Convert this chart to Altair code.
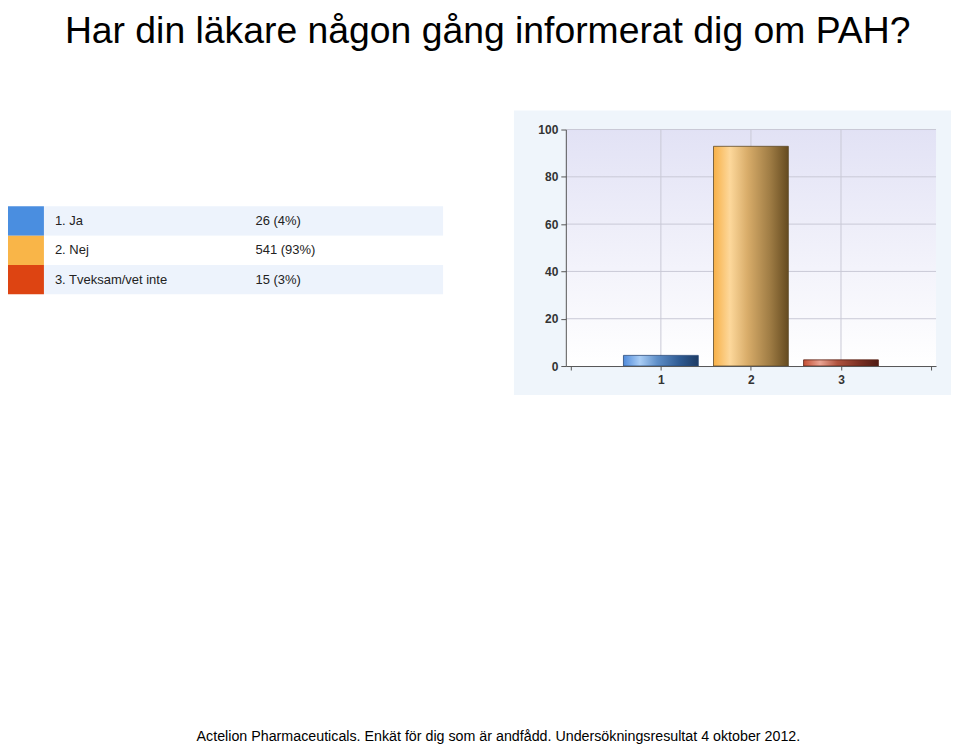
import altair as alt
import pandas as pd

# ---- data ----
categories = [1, 2, 3]
answer_labels = ["1. Ja", "2. Nej", "3. Tveksam/vet inte"]
answer_counts = ["26 (4%)", "541 (93%)", "15 (3%)"]
percent_values = [4.5, 92.9, 2.6]
square_colors = ["#4a8ee0", "#f9b548", "#dd4412"]
row_fills = ["#edf3fc", "#ffffff", "#edf3fc"]
y_ticks = [0, 20, 40, 60, 80, 100]
x_ticks = [0, 1, 2, 3, 4]
y_grid = [20, 40, 60, 80, 100]
x_grid = [1, 2, 3]
title_text = ["Har din läkare någon gång informerat dig om PAH?"]
footer_text = ["Actelion Pharmaceuticals. Enkät för dig som är andfådd. Undersökningsresultat 4 oktober 2012."]

# ---- styles ----
W, H = 371, 237
FONT = "Liberation Sans"

bar_gradients = {
    1: (["#4f8ada", "#a9cdf5", "#5f8fc8", "#2f5b93", "#1d3b64"], "#2a4a78"),
    2: (["#f7b047", "#fdd89b", "#d9ad6a", "#a07d45", "#654b20"], "#5e4a2a"),
    3: (["#c44f33", "#eaa493", "#b0533e", "#7a2f22", "#4f1b13"], "#5a2418"),
}
offsets = [0.0, 0.22, 0.45, 0.75, 1.0]

def hgrad(colors):
    return alt.LinearGradient(
        gradient="linear",
        stops=[alt.GradientStop(color=c, offset=o) for c, o in zip(colors, offsets)],
        x1=0, x2=1, y1=0, y2=0,
    )

bar_df = pd.DataFrame({"cat": categories, "pct": percent_values})
table_df = pd.DataFrame({
    "row": [str(c) for c in categories],
    "label": answer_labels,
    "count": answer_counts,
    "color": square_colors,
    "bg": row_fills,
})
one = pd.DataFrame({"k": [0]})

xscale = alt.Scale(domain=[0, 4], nice=False, zero=False)
yscale = alt.Scale(domain=[0, 100], nice=False)

xaxis = alt.Axis(
    values=x_ticks, grid=False, title=None, zindex=1,
    labelExpr="datum.value >= 1 && datum.value <= 3 ? datum.label : ''",
    domainColor="#555555", tickColor="#555555", tickSize=4,
    labelFont=FONT, labelFontSize=12, labelFontWeight="bold", labelColor="#333333",
    labelPadding=5,
)
yaxis = alt.Axis(
    values=y_ticks, grid=False, title=None, zindex=1,
    domainColor="#555555", tickColor="#555555", tickSize=5,
    labelFont=FONT, labelFontSize=12, labelFontWeight="bold", labelColor="#333333",
    labelPadding=3,
)

outer_bg = alt.Chart(one).mark_rect(fill="#eff5fb").encode(
    x=alt.value(-52), x2=alt.value(386), y=alt.value(-19), y2=alt.value(266)
)
inner_bg = alt.Chart(one).mark_rect(
    fill=alt.LinearGradient(
        gradient="linear",
        stops=[alt.GradientStop(color="#e2e2f5", offset=0),
               alt.GradientStop(color="#ffffff", offset=1)],
        x1=0, x2=0, y1=0, y2=1,
    )
).encode(x=alt.value(0), x2=alt.value(W), y=alt.value(0), y2=alt.value(H))

hgrid = alt.Chart(pd.DataFrame({"v": y_grid})).mark_rule(
    color="#c9c9d6", strokeWidth=1
).encode(y=alt.Y("v:Q", scale=yscale, axis=yaxis))

vgrid = alt.Chart(pd.DataFrame({"c": x_grid})).mark_rule(
    color="#c9c9d6", strokeWidth=1
).encode(x=alt.X("c:Q", scale=xscale, axis=xaxis))

bars = []
for c in categories:
    cols, stroke = bar_gradients[c]
    bars.append(
        alt.Chart(bar_df).transform_filter(alt.datum.cat == c).mark_bar(
            orient="vertical", size=75, fill=hgrad(cols), stroke=stroke, strokeWidth=0.8
        ).encode(
            x=alt.X("cat:Q", scale=xscale, axis=xaxis),
            y=alt.Y("pct:Q", scale=yscale, axis=yaxis),
        )
    )

bar_group = alt.layer(outer_bg, inner_bg, hgrid, vgrid, *bars)

yrow = alt.Y("row:N", scale=alt.Scale(range=[77, 165], paddingInner=0, paddingOuter=0), axis=None)

row_bg = alt.Chart(table_df).mark_rect().encode(
    y=yrow, x=alt.value(-523), x2=alt.value(-123), fill=alt.Fill("bg:N", scale=None)
)
squares = alt.Chart(table_df).mark_rect().encode(
    y=yrow, x=alt.value(-562), x2=alt.value(-523), fill=alt.Fill("color:N", scale=None)
)
labels = alt.Chart(table_df).mark_text(
    align="left", baseline="middle", font=FONT, fontSize=13, color="#222222"
).encode(y=yrow, x=alt.value(-512), text="label:N")
counts = alt.Chart(table_df).mark_text(
    align="left", baseline="middle", font=FONT, fontSize=13, color="#222222"
).encode(y=yrow, x=alt.value(-311), text="count:N")

title = alt.Chart(pd.DataFrame({"t": title_text})).mark_text(
    align="left", baseline="alphabetic", font=FONT, fontSize=37.4, color="#000000"
).encode(x=alt.value(-502), y=alt.value(-87), text="t:N")
footer = alt.Chart(pd.DataFrame({"t": footer_text})).mark_text(
    align="left", baseline="alphabetic", font=FONT, fontSize=14.3, color="#000000"
).encode(x=alt.value(-370), y=alt.value(613), text="t:N")

table_group = alt.layer(row_bg, squares, labels, counts, title, footer)

chart = alt.layer(bar_group, table_group).resolve_scale(y="independent").properties(
    width=W, height=H,
    padding={"left": 559, "top": 121, "right": 15, "bottom": 380},
    autosize=alt.AutoSizeParams(type="none"),
    background="#ffffff",
).configure_view(stroke=None)

chart.save("out.html", embed_options={"renderer": "svg", "actions": False})
